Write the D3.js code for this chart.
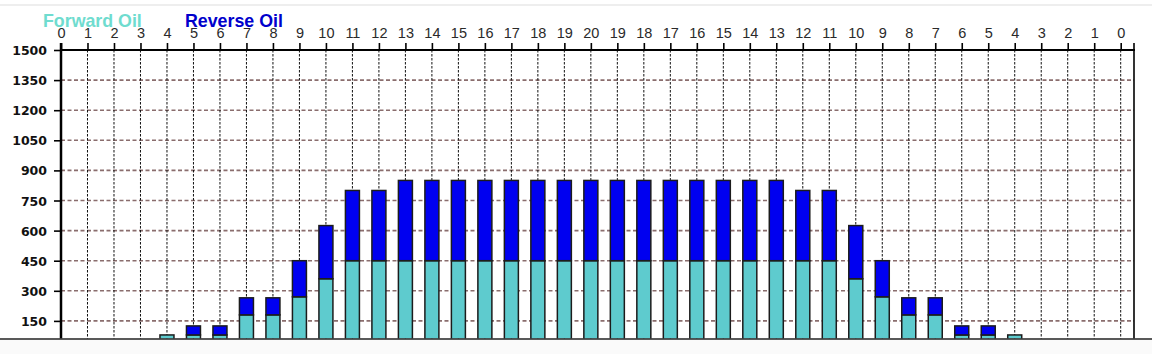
<!DOCTYPE html>
<html>
<head>
<meta charset="utf-8">
<script src="https://cdn.jsdelivr.net/npm/d3@7"></script>
<style>
  body { margin: 0; background: #fff; }
  #chart { width: 1152px; height: 354px; }
</style>
</head>
<body>
<div id="chart"></div>
<script>
// hour labels along the top axis (count up to 20 then back down)
const positionLabels = ["0","1","2","3","4","5","6","7","8","9","10","11","12","13","14","15","16","17","18","19","20",
                        "19","18","17","16","15","14","13","12","11","10","9","8","7","6","5","4","3","2","1","0"];
const forwardOil = [0,0,0,0,80,80,80,180,180,270,360,450,450,450,450,450,450,450,450,450,450,
                    450,450,450,450,450,450,450,450,450,360,270,180,180,80,80,80,0,0,0,0];
const reverseOil = [0,0,0,0,0,45,45,85,85,180,265,350,350,400,400,400,400,400,400,400,400,
                    400,400,400,400,400,400,400,350,350,265,180,85,85,45,45,0,0,0,0,0];
const yTicks = [150,300,450,600,750,900,1050,1200,1350,1500];
const seriesNames = ["Forward Oil", "Reverse Oil"];

class OilChart {
    constructor(_parentElement) {
        this.parentElement = _parentElement;
        this.initVis();
    }

    initVis() {
        let vis = this;
        vis.left = 61; vis.right = 1134; vis.top = 50; vis.bottom = 338.5;

        vis.svg = d3.select("#" + vis.parentElement).append("svg")
            .attr("width", 1152).attr("height", 354);

        // faint frame line of the screenshot
        vis.svg.append("line").attr("x1", 0).attr("x2", 1152).attr("y1", 5).attr("y2", 5)
            .attr("stroke", "#eeeeee").attr("stroke-width", 2);

        vis.svg.append("defs").append("clipPath").attr("id", "clip")
            .append("rect").attr("x", vis.left).attr("y", vis.top)
            .attr("width", vis.right - vis.left).attr("height", vis.bottom - vis.top);

        vis.x = d3.scalePoint().domain(d3.range(positionLabels.length)).range([61, 1120.7]);
        vis.y = d3.scaleLinear().domain([0, 1500]).range([351, 50]);

        vis.wrangleData();
    }

    wrangleData() {
        let vis = this;
        vis.displayData = positionLabels.map((p, i) => ({
            i: i, label: p, forward: forwardOil[i], reverse: reverseOil[i]
        }));
        vis.stack = d3.stack().keys(["forward", "reverse"])(vis.displayData);
        vis.updateVis();
    }

    updateVis() {
        let vis = this;
        const g = vis.svg.append("g");

        // horizontal grid
        g.selectAll(".hgrid").data(yTicks.filter(d => d < 1500)).enter().append("line")
            .attr("x1", vis.left).attr("x2", vis.right)
            .attr("y1", d => vis.y(d)).attr("y2", d => vis.y(d))
            .attr("stroke", "#8a6d6d").attr("stroke-width", 1.6)
            .attr("stroke-dasharray", "4,2.5");

        // vertical grid
        g.selectAll(".vgrid").data(vis.displayData.slice(1)).enter().append("line")
            .attr("x1", d => vis.x(d.i)).attr("x2", d => vis.x(d.i))
            .attr("y1", vis.top).attr("y2", vis.bottom)
            .attr("stroke", "#111").attr("stroke-width", 1)
            .attr("stroke-dasharray", "2.5,1.5");

        // stacked bars
        const colors = ["#5ecbce", "#0000f0"];
        const bars = g.append("g").attr("clip-path", "url(#clip)");
        vis.stack.forEach((layer, k) => {
            bars.selectAll(".bar" + k).data(layer.filter(d => d[1] > d[0])).enter().append("rect")
                .attr("x", d => vis.x(d.data.i) - 7)
                .attr("width", 14)
                .attr("y", d => vis.y(d[1]))
                .attr("height", d => vis.y(d[0]) - vis.y(d[1]))
                .attr("fill", colors[k])
                .attr("stroke", "#1c1c1c").attr("stroke-width", 1.5);
        });

        // top axis
        const xAxis = d3.axisTop(vis.x).tickSize(7).tickFormat(i => positionLabels[i]);
        const xg = g.append("g").attr("transform", "translate(0," + vis.top + ")").call(xAxis);
        xg.select(".domain").remove();
        xg.selectAll(".tick line").attr("stroke", "#000").attr("stroke-width", 1.6);
        xg.selectAll(".tick text").attr("y", -12)
            .attr("font-family", "Liberation Sans, Arial, sans-serif")
            .attr("font-size", 14.5).attr("fill", "#2a2a2a");
        g.append("line").attr("x1", vis.left).attr("x2", vis.right + 1)
            .attr("y1", vis.top).attr("y2", vis.top).attr("stroke", "#000").attr("stroke-width", 2);
        g.append("line").attr("x1", vis.right).attr("x2", vis.right)
            .attr("y1", vis.top - 7).attr("y2", vis.bottom).attr("stroke", "#000").attr("stroke-width", 1.6);

        // left axis
        const yAxis = d3.axisLeft(vis.y).tickValues(yTicks).tickSize(7).tickFormat(d3.format("d"));
        const yg = g.append("g").attr("transform", "translate(" + vis.left + ",0)").call(yAxis);
        yg.select(".domain").remove();
        yg.selectAll(".tick line").attr("stroke", "#000").attr("stroke-width", 1.6);
        yg.selectAll(".tick text").attr("x", -14).attr("dy", "0.36em")
            .attr("font-family", "DejaVu Sans, sans-serif").attr("font-weight", "bold")
            .attr("font-size", 12.5).attr("fill", "#111");
        g.append("line").attr("x1", vis.left).attr("x2", vis.left)
            .attr("y1", vis.top - 7).attr("y2", vis.bottom).attr("stroke", "#000").attr("stroke-width", 2.5);

        // bottom edge
        vis.svg.append("line").attr("x1", 0).attr("x2", 1152)
            .attr("y1", vis.bottom + 0.5).attr("y2", vis.bottom + 0.5)
            .attr("stroke", "#222").attr("stroke-width", 1.5);
        vis.svg.append("rect").attr("x", 0).attr("y", vis.bottom + 1.5)
            .attr("width", 1152).attr("height", 354 - vis.bottom - 1.5).attr("fill", "#fafafa");

        // legend (overlaps the top tick labels, as in the original)
        const legendColors = ["#6fdccf", "#0000cc"];
        const legendX = [43, 185];
        vis.svg.selectAll(".legend").data(seriesNames).enter().append("text")
            .attr("x", (d, k) => legendX[k]).attr("y", 27)
            .attr("font-family", "Liberation Sans, Arial, sans-serif")
            .attr("font-weight", "bold").attr("font-size", 17.8)
            .attr("fill", (d, k) => legendColors[k])
            .text(d => d);
    }
}

new OilChart("chart");
</script>
</body>
</html>
